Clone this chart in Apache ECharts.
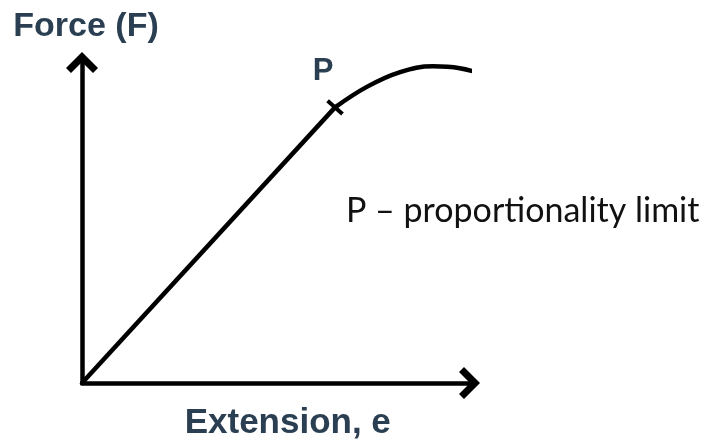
<!DOCTYPE html>
<html>
<head>
<meta charset="utf-8">
<script src="https://cdn.jsdelivr.net/npm/echarts@6/dist/echarts.min.js"></script>
<style>
  html, body { margin: 0; padding: 0; background: #fff; }
  #main { width: 709px; height: 446px; }
</style>
</head>
<body>
<div id="main"></div>
<script>
// straight (proportional) part, origin to P
const linearX = [0, 6.53];
const linearY = [0, 8.6];
// curved part after P
const curveX = [6.53, 7.35, 8.21, 9.06, 9.75, 10.4];
const curveY = [8.6, 9.24, 9.7, 9.88, 9.82, 9.61];

const axisNames = ['Extension, e', 'Force (F)'];
const pointLabel = 'P';
const noteText = 'P \u2013 proportionality limit';

var myChart = echarts.init(document.getElementById('main'));

// open chevron arrow head, pointing up (echarts rotates it per axis)
const chevron = 'path://M16,0 L32,16 L27,21 L16,10 L5,21 L0,16 Z';

const linearData = linearX.map((x, i) => [x, linearY[i]]);
const curveData = curveX.map((x, i) => {
    if (i === 0) {
        return {
            value: [x, curveY[i]],
            symbol: 'rect',
            symbolSize: [4, 20],
            symbolRotate: 48,
            label: {
                show: true,
                formatter: pointLabel,
                position: 'top',
                distance: 12,
                offset: [-12, 0],
                color: '#2b3f52',
                fontFamily: 'Liberation Sans',
                fontWeight: 'bold',
                fontSize: 31
            }
        };
    }
    return { value: [x, curveY[i]], symbol: 'none' };
});

option = {
    animation: false,
    title: {
        text: noteText,
        left: 346,
        top: 194,
        padding: 0,
        textStyle: {
            fontFamily: 'Lato',
            fontWeight: 'normal',
            fontSize: 34,
            color: '#111'
        }
    },
    grid: {
        left: 82,
        right: 239.5,
        top: 62.5,
        bottom: 54.5
    },
    xAxis: {
        type: 'value',
        min: 0,
        max: 10,
        name: axisNames[0],
        nameLocation: 'middle',
        nameGap: 23,
        nameTextStyle: {
            color: '#2b3f52',
            fontFamily: 'Liberation Sans',
            fontWeight: 'bold',
            fontSize: 35,
            padding: [0, 0, 0, 24]
        },
        axisLine: {
            show: true,
            symbol: ['none', chevron],
            symbolSize: [32, 21],
            lineStyle: { color: '#000', width: 4.5 }
        },
        axisTick: { show: false },
        axisLabel: { show: false },
        splitLine: { show: false }
    },
    yAxis: {
        type: 'value',
        min: 0,
        max: 10,
        name: axisNames[1],
        nameLocation: 'end',
        nameGap: 19,
        nameTextStyle: {
            color: '#2b3f52',
            fontFamily: 'Liberation Sans',
            fontWeight: 'bold',
            fontSize: 34,
            padding: [0, 0, 0, 8]
        },
        axisLine: {
            show: true,
            symbol: ['none', chevron],
            symbolSize: [32, 21],
            lineStyle: { color: '#000', width: 4.5 }
        },
        axisTick: { show: false },
        axisLabel: { show: false },
        splitLine: { show: false }
    },
    series: [
        {
            type: 'line',
            data: linearData,
            showSymbol: false,
            lineStyle: { color: '#000', width: 4.5 },
            z: 3
        },
        {
            type: 'line',
            data: curveData,
            smooth: 0.4,
            clip: false,
            itemStyle: { color: '#000' },
            lineStyle: { color: '#000', width: 4.5 },
            z: 3
        }
    ]
};

myChart.setOption(option);
</script>
</body>
</html>
